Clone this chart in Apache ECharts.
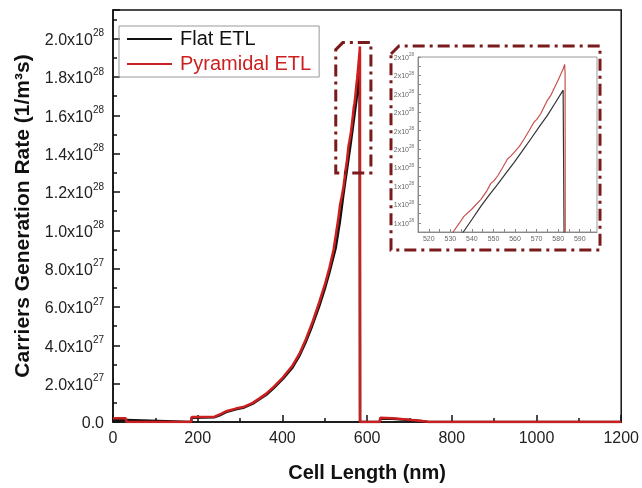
<!DOCTYPE html>
<html><head><meta charset="utf-8">
<script src="https://cdn.jsdelivr.net/npm/echarts@6.0.0/dist/echarts.min.js"></script>
<style>html,body{margin:0;padding:0;background:#fff}#c{width:642px;height:488px}</style>
</head><body><div id="c"></div>
<script>
// Values of generation rate are in units of 10^27 (1/m^3 s)
const seriesNames = ['Flat ETL', 'Pyramidal ETL'];
const flatX = [0,30,31,184,186,240,255,267,290,310,330,345,362,380,401,424,440,456,470,487,500,511,526,536,540,544.2,548,551.9,555.7,559.6,563.4,567.3,571.1,575,578.6,582.3,583,583.3,630,631,660,700,740,745,1200];
const flatY = [0.1,0.1,0,0,0.22,0.25,0.38,0.52,0.66,0.76,0.96,1.18,1.42,1.78,2.25,2.85,3.45,4.22,5.0,6.05,6.95,7.8,9.1,10.5,11.18,11.9,12.5,13.09,13.68,14.28,14.9,15.55,16.19,16.83,17.5,18.2,18.3,0,0,0.18,0.17,0.1,0.02,0,0];
const pyrX = [0,30,32,184,186,240,255,267,290,310,330,345,362,380,401,424,440,456,470,487,500,511,521,531.3,534,536.3,540,544.2,547,548.8,550,551.9,554,556.5,558,559.6,562,564.2,566.5,568.8,570,571.9,573.5,575,576.5,578.1,580,582.3,583,583.2,583.4,630,631,660,700,740,745,1200];
const pyrY = [0.2,0.2,0,0,0.26,0.28,0.42,0.56,0.7,0.8,1.0,1.22,1.48,1.85,2.32,2.95,3.55,4.35,5.15,6.25,7.15,8.05,9.0,10.5,10.95,11.35,11.75,12.27,12.75,13.14,13.25,13.54,13.95,14.46,14.62,14.82,15.15,15.55,16.0,16.47,16.6,16.92,17.3,17.65,17.9,18.29,18.75,19.35,19.6,19.1,0,0,0.22,0.2,0.12,0.02,0,0];
const xTicksMain = {min: 0, max: 1200, interval: 200};
const yTicksMain = {min: 0, max: 21.5, interval: 2};
const xTicksInset = {min: 515, max: 598, interval: 5, labelStep: 10};
const yTicksInset = {min: 10.5, max: 20, interval: 0.5, labelStep: 1};
const zoomBoxX = [526, 609];
const zoomBoxY = [13.0, 19.8];

const pairs = (xs, ys) => xs.map((x, i) => [x, ys[i]]);
const flatData = pairs(flatX, flatY);
const pyrData = pairs(pyrX, pyrY);

const DARKRED = '#7a1a1a';
const isMult = (v, s) => Math.abs(v / s - Math.round(v / s)) < 1e-6;
const mainLabel = v => {
  if (Math.abs(v) < 1e-9) return '{m|0.0}';
  if (!isMult(v, 2)) return '';
  const exp = v >= 10 ? 28 : 27;
  const mant = v >= 10 ? v / 10 : v;
  return '{m|' + mant.toFixed(1) + 'x10}{s|' + exp + '}';
};
const insetLabel = v => {
  if (!isMult(v, yTicksInset.labelStep)) return '';
  return '{m|' + Math.round(v / 10) + 'x10}{s|28}';
};

const chart = echarts.init(document.getElementById('c'), null, {renderer: 'canvas'});
const option = {
  animation: false,
  backgroundColor: '#fff',
  textStyle: {fontFamily: 'Liberation Sans, Arial, sans-serif'},
  grid: [
    {left: 113, top: 10, right: 19, bottom: 64, show: true, borderColor: '#111', borderWidth: 1.5},
    {left: 418, top: 57, right: 45, bottom: 256, show: true, borderColor: '#999', borderWidth: 1}
  ],
  legend: {
    orient: 'vertical', left: 119, top: 26,
    padding: [3, 8, 3, 8], itemGap: 5, itemWidth: 45, itemHeight: 2, icon: 'rect',
    borderColor: '#999', borderWidth: 1,
    data: [
      {name: seriesNames[0], textStyle: {color: '#111'}},
      {name: seriesNames[1], textStyle: {color: '#cc1f1f'}}
    ],
    textStyle: {fontSize: 20, lineHeight: 20, padding: [0, 0, 0, 3]}
  },
  xAxis: [
    {gridIndex: 0, type: 'value', min: xTicksMain.min, max: xTicksMain.max, interval: xTicksMain.interval,
     name: 'Cell Length (nm)', nameLocation: 'middle', nameGap: 41,
     nameTextStyle: {fontSize: 20, fontWeight: 'bold', color: '#111'},
     axisLine: {lineStyle: {color: '#111', width: 1.5}},
     axisTick: {inside: true, length: 7, lineStyle: {color: '#111', width: 1.5}},
     minorTick: {show: true, splitNumber: 2, length: 4, lineStyle: {color: '#111', width: 1.5}},
     axisLabel: {fontSize: 16, color: '#222', margin: 9, formatter: v => String(v)},
     splitLine: {show: false}},
    {gridIndex: 1, type: 'value', min: xTicksInset.min, max: xTicksInset.max, interval: xTicksInset.interval,
     axisLine: {lineStyle: {color: '#888', width: 1}},
     axisTick: {inside: true, length: 3, lineStyle: {color: '#888'}},
     axisLabel: {fontSize: 7, color: '#666', margin: 4, showMaxLabel: false,
       formatter: v => (isMult(v, xTicksInset.labelStep) ? String(v) : '')},
     splitLine: {show: false}}
  ],
  yAxis: [
    {gridIndex: 0, type: 'value', min: yTicksMain.min, max: yTicksMain.max, interval: yTicksMain.interval,
     name: 'Carriers Generation Rate (1/m³s)', nameLocation: 'middle', nameGap: 77,
     nameTextStyle: {fontSize: 21, fontWeight: 'bold', color: '#111'},
     axisLine: {lineStyle: {color: '#111', width: 1.5}},
     axisTick: {inside: true, length: 7, lineStyle: {color: '#111', width: 1.5}},
     minorTick: {show: true, splitNumber: 2, length: 4, lineStyle: {color: '#111', width: 1.5}},
     axisLabel: {margin: 9, showMaxLabel: false, formatter: mainLabel,
       rich: {m: {fontSize: 16, color: '#222', lineHeight: 20, verticalAlign: 'bottom'},
              s: {fontSize: 10, color: '#222', lineHeight: 10, verticalAlign: 'top'}}},
     splitLine: {show: false}},
    {gridIndex: 1, type: 'value', min: yTicksInset.min, max: yTicksInset.max, interval: yTicksInset.interval,
     axisLine: {lineStyle: {color: '#888', width: 1}},
     axisTick: {inside: true, length: 3, lineStyle: {color: '#888'}},
     axisLabel: {margin: 4, showMinLabel: false, formatter: insetLabel,
       rich: {m: {fontSize: 7, color: '#666', lineHeight: 9, verticalAlign: 'bottom'},
              s: {fontSize: 4.5, color: '#666', lineHeight: 5, verticalAlign: 'top'}}},
     splitLine: {show: false}}
  ],
  series: [
    {name: seriesNames[0], type: 'line', xAxisIndex: 0, yAxisIndex: 0, data: flatData,
     showSymbol: false, symbol: 'none', lineStyle: {color: '#111', width: 2.5}, itemStyle: {color: '#111'}, z: 3},
    {name: seriesNames[1], type: 'line', xAxisIndex: 0, yAxisIndex: 0, data: pyrData,
     showSymbol: false, symbol: 'none', lineStyle: {color: '#cc1f1f', width: 2.5}, itemStyle: {color: '#cc1f1f'}, z: 4},
    {name: seriesNames[0] + ' (inset)', type: 'line', xAxisIndex: 1, yAxisIndex: 1, data: flatData, clip: true,
     showSymbol: false, symbol: 'none', lineStyle: {color: '#333', width: 1.2}, z: 3},
    {name: seriesNames[1] + ' (inset)', type: 'line', xAxisIndex: 1, yAxisIndex: 1, data: pyrData, clip: true,
     showSymbol: false, symbol: 'none', lineStyle: {color: '#c8504e', width: 1.2}, z: 4}
  ]
};
chart.setOption(option);

function bevelBox(x0, y0, x1, y1, b) {
  return {
    type: 'polygon', silent: true, z: 10,
    shape: {points: [[x0, y0 + b], [x0 + b, y0], [x1, y0], [x1, y1], [x0, y1]]},
    style: {fill: 'none', stroke: DARKRED, lineWidth: 3, lineDash: [12, 5, 3, 5]}
  };
}
const p0 = chart.convertToPixel({gridIndex: 0}, [zoomBoxX[0], zoomBoxY[1]]);
const p1 = chart.convertToPixel({gridIndex: 0}, [zoomBoxX[1], zoomBoxY[0]]);
const ig = chart.getModel().getComponent('grid', 1).coordinateSystem.getRect();
chart.setOption({
  graphic: [
    bevelBox(p0[0], p0[1], p1[0], p1[1], 7),
    bevelBox(ig.x - 27, ig.y - 11, ig.x + ig.width + 3, ig.y + ig.height + 18, 8)
  ]
});
</script>
</body></html>
